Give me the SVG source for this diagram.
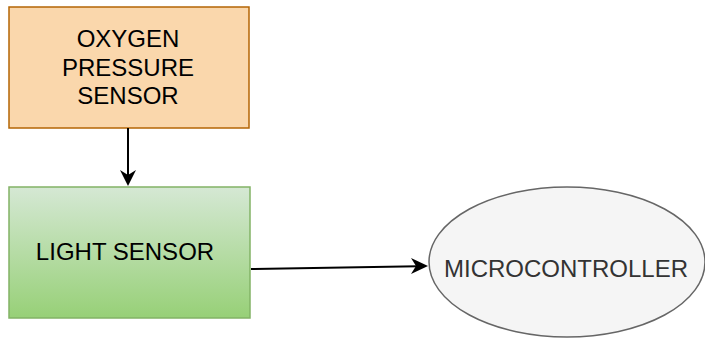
<svg xmlns="http://www.w3.org/2000/svg" width="705" height="347" viewBox="0 0 705 347">
<style>
text{font-family:"Liberation Sans",Arial,sans-serif;font-size:24px;text-anchor:middle}
.conn{stroke:#000;stroke-width:2;fill:none}
</style>
<defs>
<linearGradient id="gg" x1="0" y1="0" x2="0" y2="1">
<stop offset="0" stop-color="#d5e8d4"/>
<stop offset="1" stop-color="#97d077"/>
</linearGradient>
<marker id="ah" markerWidth="10" markerHeight="10" refX="9" refY="5" orient="auto" markerUnits="userSpaceOnUse" viewBox="0 0 10 10">
<path d="M0,0 L10,5 L0,10 L3,5 Z" fill="#000"/>
</marker>
</defs>
<rect width="705" height="347" fill="#fff"/>
<g id="oxygen">
<rect x="9" y="7" width="240" height="121" fill="#fad7ac" stroke="#b46504" stroke-width="1.5"/>
<text x="128" y="47">OXYGEN</text>
<text x="128" y="75.5">PRESSURE</text>
<text x="128" y="104">SENSOR</text>
</g>
<g id="light">
<rect x="9" y="187" width="241" height="131" fill="url(#gg)" stroke="#82b366" stroke-width="1.5"/>
<text x="125" y="260">LIGHT SENSOR</text>
</g>
<g id="micro">
<ellipse cx="567" cy="262" rx="138" ry="75" fill="#f5f5f5" stroke="#666" stroke-width="1.5"/>
<text x="566" y="277" fill="#333">MICROCONTROLLER</text>
</g>
<g id="connectors">
<path class="conn" d="M128,128 L128,176"/>
<path d="M128,186 L120,170 L128,175 L136,170 Z" fill="#000"/>
<path class="conn" d="M251,269 L418,266.2"/>
<path d="M428,266 L411,274 L416,266.1 L411,258 Z" fill="#000"/>
</g>
</svg>
